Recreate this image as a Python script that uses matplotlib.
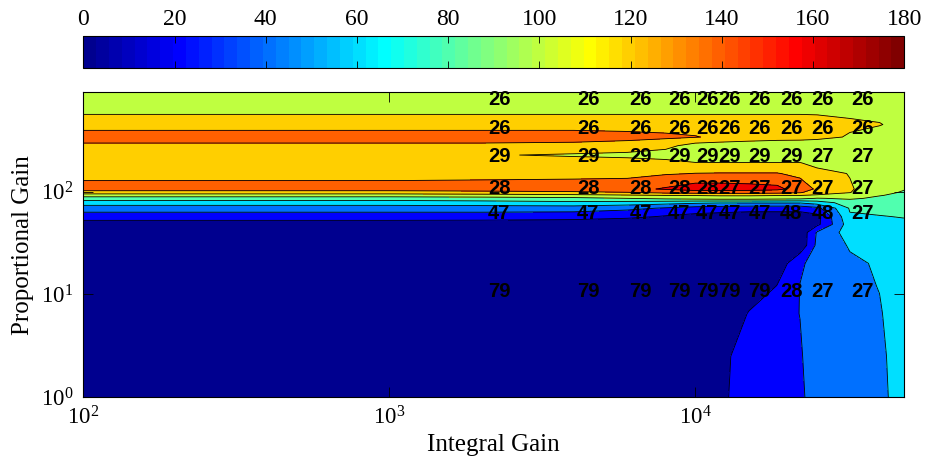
import numpy as np
import matplotlib
matplotlib.use("Agg")
import matplotlib.pyplot as plt
from matplotlib.colors import ListedColormap, Normalize
from matplotlib.cm import ScalarMappable
from matplotlib.ticker import NullLocator, LogLocator

plt.rcParams["font.family"] = "Liberation Serif"
plt.rcParams["mathtext.fontset"] = "custom"
plt.rcParams["mathtext.rm"] = "Liberation Serif"

# grid of gains
integral_gain = [100, 1000, 2000, 4000, 6000, 8000, 10000, 12000, 15000,
                 18500, 22000, 25000, 32000, 40000, 48200]
proportional_gain = [1, 2.5, 6.5, 12, 20, 30, 40, 48, 57, 69, 78, 86, 92, 98,
                     106, 150, 190, 227, 280, 340, 450, 680, 927]

# response surface, one list per integral-gain column (bottom to top in Kp)
col_100 = [5, 5, 5, 5, 5, 5, 5, 10, 30, 50, 70, 90, 110, 130, 150, 130, 130, 126, 136, 150, 130, 110, 110]
col_1000 = [5, 5, 5, 5, 5, 5, 5, 10, 30, 50, 70, 90, 110, 130, 150, 130, 130, 126, 136, 150, 130, 110, 110]
col_2000 = [5, 5, 5, 5, 5, 5, 5, 9, 30, 50, 72, 92, 112, 132, 152, 130, 128, 121, 136, 150, 130, 110, 110]
col_4000 = [5, 5, 5, 5, 5, 5, 5, 8, 28, 50, 75, 95, 115, 135, 155, 130, 128, 118, 134, 150, 130, 110, 110]
col_6000 = [5, 5, 5, 5, 5, 5, 5, 6, 24, 45, 72, 100, 118, 139, 155, 132, 127, 116, 131, 147, 130, 110, 110]
col_8000 = [5, 5, 5, 5, 5, 5, 5, 5, 18, 38, 68, 105, 120.5, 145, 162, 138, 125, 113, 125, 144, 130, 110, 110]
col_10000 = [5, 5, 5, 5, 5, 5, 5, 5, 14, 32, 64, 108, 121, 147, 170, 140.5, 121, 106, 112, 141, 130, 110, 110]
col_12000 = [16, 14.5, 8, 5, 5, 5, 5, 5, 12, 30, 62, 110, 122, 148, 170, 141, 121, 105, 110, 136, 130, 110, 110]
col_15000 = [30, 30, 21, 8, 5, 5, 5, 5, 10, 28, 62, 110, 122, 148, 168, 141, 121, 104, 108, 132, 130, 110, 110]
col_18500 = [32, 33, 30, 20.5, 8, 5, 5, 5, 10, 28, 62, 108, 121, 146, 165, 141, 121, 104, 107, 129, 130, 110, 110]
col_22000 = [35, 38, 40.5, 40.5, 36, 5, 5, 5, 10, 28, 62, 106, 120.5, 142, 150, 135, 121, 104, 107, 128, 130, 110, 110]
col_25000 = [53.5, 52, 52, 52, 50, 45, 42, 15, 14, 35, 70, 99, 118, 128, 137, 128, 112, 104, 106, 126, 129, 110, 110]
col_32000 = [55, 55, 55, 56, 57, 62, 70, 72, 78, 82, 90, 103, 112, 120.5, 122, 119, 110, 105, 106, 118, 124, 110, 110]
col_40000 = [57, 57.5, 59, 60.5, 62, 66, 68, 72, 79, 86, 92, 96, 101, 105, 107, 110, 110, 106, 106, 112, 121, 110, 110]
col_48200 = [66, 67, 68, 69, 70, 71, 72, 76, 81, 86, 90, 93, 95, 98, 101, 106, 108, 108, 108, 110, 113, 110, 110]

columns = [col_100, col_1000, col_2000, col_4000, col_6000, col_8000, col_10000,
           col_12000, col_15000, col_18500, col_22000, col_25000, col_32000,
           col_40000, col_48200]

# annotated values
label_ki = [2100, 4100, 6100, 8150, 10050, 11900, 14900, 18900, 24000, 32400]
label_kp = [700, 360, 195, 95, 54, 9.5]
label_row_1 = [26, 26, 26, 26, 26, 26, 26, 26, 26, 26]
label_row_2 = [26, 26, 26, 26, 26, 26, 26, 26, 26, 26]
label_row_3 = [29, 29, 29, 29, 29, 29, 29, 29, 27, 27]
label_row_4 = [28, 28, 28, 28, 28, 27, 27, 27, 27, 27]
label_row_5 = [47, 47, 47, 47, 47, 47, 47, 48, 48, 27]
label_row_6 = [79, 79, 79, 79, 79, 79, 79, 28, 27, 27]
label_rows = [label_row_1, label_row_2, label_row_3, label_row_4, label_row_5, label_row_6]

levels = np.arange(0, 181, 20)
cmin, cmax = 0, 180


def matlab_jet(m=64):
    n = int(np.ceil(m / 4))
    u = np.concatenate([np.arange(1, n + 1) / n, np.ones(n - 1), np.arange(n, 0, -1) / n])
    g = int(np.ceil(n / 2)) - (1 if m % 4 == 1 else 0) + np.arange(1, len(u) + 1)
    r = g + n
    b = g - n
    J = np.zeros((m, 3))
    J[r[r <= m] - 1, 0] = u[r <= m]
    J[g[g <= m] - 1, 1] = u[g <= m]
    J[b[b >= 1] - 1, 2] = u[b >= 1]
    return J


jet64 = matlab_jet(64)
cmap = ListedColormap(jet64)
band_colors = [jet64[min(int((L - cmin) / (cmax - cmin) * 64), 63)] for L in levels[:-1]]

W, H = 927, 465
fig = plt.figure(figsize=(W / 100, H / 100), dpi=100)
ax = fig.add_axes([83.3 / W, 1 - 397 / H, (904.3 - 83.3) / W, (397 - 92.3) / H])
cax = fig.add_axes([83.3 / W, 1 - 68 / H, (904.3 - 83.3) / W, 32 / H])

X, Y = np.meshgrid(integral_gain, proportional_gain)
Z = np.array(columns).T

ax.contourf(X, Y, Z, levels=levels, colors=band_colors)
ax.contour(X, Y, Z, levels=levels, colors="k", linewidths=0.6)

ax.set_xscale("log")
ax.set_yscale("log")
ax.set_xlim(100, 48200)
ax.set_ylim(1, 927)
ax.xaxis.set_major_locator(LogLocator(base=10, numticks=10))
ax.yaxis.set_major_locator(LogLocator(base=10, numticks=10))
ax.xaxis.set_minor_locator(NullLocator())
ax.yaxis.set_minor_locator(NullLocator())
ax.tick_params(axis="both", which="major", direction="in", top=True, right=True,
               length=7, width=0.6, labelsize=16.5, pad=7)
for s in ax.spines.values():
    s.set_linewidth(0.8)

ax.set_xlabel("Integral Gain", fontsize=18, labelpad=3)
ax.set_ylabel("Proportional Gain", fontsize=18, labelpad=5)

for kp, row in zip(label_kp, label_rows):
    for ki, val in zip(label_ki, row):
        ax.text(ki, kp, str(val), ha="left", va="baseline",
                fontfamily="Liberation Sans", fontweight="bold", fontsize=14.5,
                color="black")

sm = ScalarMappable(norm=Normalize(cmin, cmax), cmap=cmap)
cb = fig.colorbar(sm, cax=cax, orientation="horizontal", ticks=levels)
cb.outline.set_linewidth(0.8)
cax.tick_params(axis="x", direction="in", top=True, bottom=True,
                labeltop=True, labelbottom=False, length=5, width=0.6,
                labelsize=17, pad=4)
cax.set_xticklabels([str(v) for v in levels])

fig.savefig("out.png", dpi=100)
